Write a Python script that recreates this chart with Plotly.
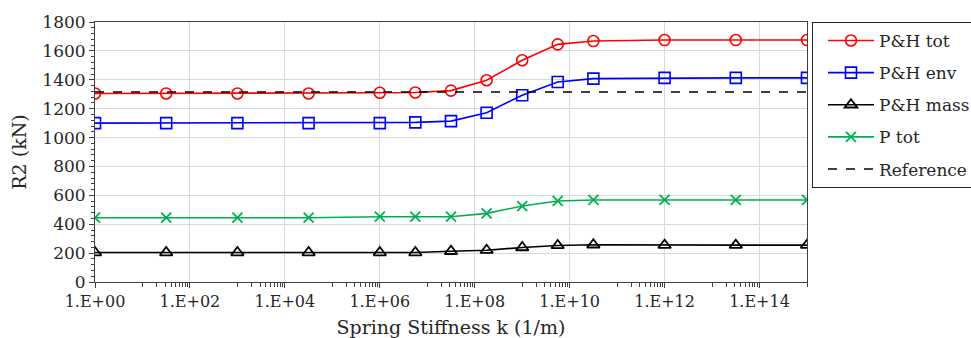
import plotly.graph_objects as go

# Spring stiffness values (1/m)
stiffness = [1, 31.6, 1000, 31600, 1e6, 5.6e6, 3.16e7, 1.78e8,
             1e9, 5.6e9, 3.16e10, 1e12, 3.16e13, 1e15]

# Reaction R2 (kN) per model
ph_tot = [1305, 1305, 1305, 1305, 1310, 1312, 1325, 1397,
          1535, 1645, 1668, 1675, 1675, 1675]
ph_env = [1100, 1100, 1100, 1100, 1100, 1105, 1114, 1172,
          1293, 1385, 1408, 1413, 1413, 1413]
ph_mass = [204, 204, 204, 204, 204, 204, 213, 220,
           239, 253, 258, 255, 255, 255]
p_tot = [445, 445, 445, 445, 452, 452, 452, 475,
         526, 561, 568, 568, 568, 568]
reference_value = 1315

x_tick_vals = [1, 1e2, 1e4, 1e6, 1e8, 1e10, 1e12, 1e14]
x_tick_text = ["1.E+00", "1.E+02", "1.E+04", "1.E+06", "1.E+08",
               "1.E+10", "1.E+12", "1.E+14"]

# minor ticks: 10..90 in each 100x interval
x_minor = []
for base in x_tick_vals:
    for k in range(1, 10):
        x_minor.append(base * 10 * k)
x_minor = [v for v in x_minor if v <= 1e15]

FONT = "'DejaVu Serif', 'Liberation Serif', serif"
TXT = "#262626"

fig = go.Figure()


def add_series(x, y, name, color, symbol, size, mwidth, dash=None, markers=True):
    fig.add_trace(go.Scatter(
        x=x, y=y, name=name, legendgroup=name,
        mode="lines+markers" if markers else "lines",
        line=dict(color=color, width=1.6, dash=dash),
        marker=dict(symbol=symbol, size=size, color=color,
                    line=dict(width=mwidth, color=color))))


add_series(stiffness, ph_tot, "P&H tot", "#ff0000", "circle-open", 11, 1.6)
add_series(stiffness, ph_env, "P&H env", "#0000ff", "square-open", 11, 1.6)
add_series(stiffness, ph_mass, "P&H mass", "#000000", "triangle-up-open", 11, 1.8)
add_series(stiffness, p_tot, "P tot", "#00b050", "x-thin-open", 10, 1.8)
add_series([stiffness[0], stiffness[-1]], [reference_value, reference_value],
           "Reference", "#000000", "circle", 1, 0, dash="dash", markers=False)

fig.update_layout(
    width=971, height=338,
    margin=dict(l=95, r=164, t=22, b=56, autoexpand=False),
    paper_bgcolor="white", plot_bgcolor="white",
    font=dict(family=FONT, size=16, color=TXT),
    showlegend=True,
    legend=dict(
        x=1.007, xanchor="left", y=1.0, yanchor="top",
        bordercolor="#262626", borderwidth=1, bgcolor="white",
        font=dict(family=FONT, size=17, color=TXT),
        itemwidth=46, tracegroupgap=7, indentation=10),
)

fig.update_xaxes(
    type="log", range=[0, 15],
    tickmode="array", tickvals=x_tick_vals, ticktext=x_tick_text,
    ticks="outside", ticklen=5, tickcolor="#404040", tickwidth=1,
    showline=True, linecolor="#404040", linewidth=1, mirror=True,
    showgrid=True, gridcolor="#d9d9d9", gridwidth=1, zeroline=False,
    tickfont=dict(family=FONT, size=16, color=TXT),
    minor=dict(tickmode="array", tickvals=x_minor, ticks="outside",
               ticklen=4, tickcolor="#404040", showgrid=False),
    title=dict(text="Spring Stiffness k (1/m)", standoff=10,
               font=dict(family=FONT, size=19, color=TXT)),
)

fig.update_yaxes(
    range=[0, 1800], dtick=200,
    ticks="outside", ticklen=5, tickcolor="#404040", tickwidth=1,
    showline=True, linecolor="#404040", linewidth=1, mirror=True,
    showgrid=True, gridcolor="#d9d9d9", gridwidth=1, zeroline=False,
    tickfont=dict(family=FONT, size=17, color=TXT),
    minor=dict(dtick=40, ticks="outside", ticklen=3, tickcolor="#404040",
               showgrid=False),
    title=dict(text="R2 (kN)", standoff=10,
               font=dict(family=FONT, size=19, color=TXT)),
)

fig.write_html("out.html")
